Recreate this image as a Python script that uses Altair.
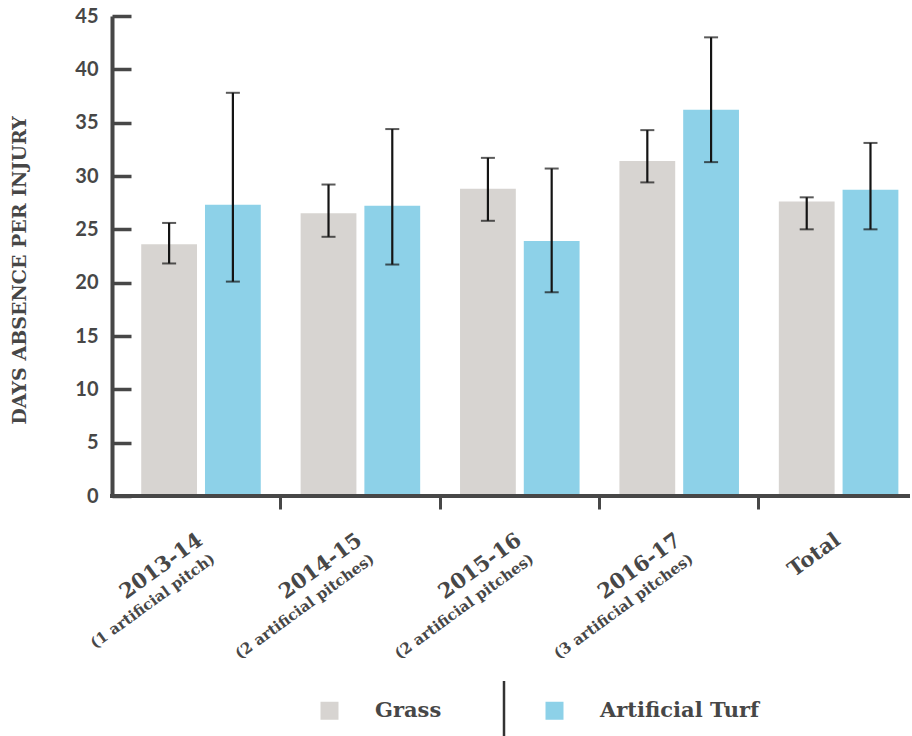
import altair as alt
import pandas as pd

# Seasons on the x axis, with the number of artificial pitches in use
seasons = ["2013-14", "2014-15", "2015-16", "2016-17", "Total"]
pitch_notes = [
    "(1 artificial pitch)",
    "(2 artificial pitches)",
    "(2 artificial pitches)",
    "(3 artificial pitches)",
    "",
]
surfaces = ["Grass", "Artificial Turf"]

# Mean days of absence per injury with lower / upper error bounds
grass_days = [23.6, 26.5, 28.8, 31.4, 27.6]
grass_low = [21.8, 24.3, 25.8, 29.4, 25.0]
grass_high = [25.6, 29.2, 31.7, 34.3, 28.0]

turf_days = [27.3, 27.2, 23.9, 36.2, 28.7]
turf_low = [20.1, 21.7, 19.1, 31.3, 25.0]
turf_high = [37.8, 34.4, 30.7, 43.0, 33.1]

y_ticks = [0, 5, 10, 15, 20, 25, 30, 35, 40, 45]

INK = "#474747"
BAR_INK = "#141414"
GRASS = "#d7d4d1"
TURF = "#8dd1e8"
SLAB = "DejaVu Serif"
SANS = "Lato"

W, H = 798, 480

rows = []
for i, s in enumerate(seasons):
    rows.append({"season": s, "surface": "Grass", "days": grass_days[i],
                 "low": grass_low[i], "high": grass_high[i]})
    rows.append({"season": s, "surface": "Artificial Turf", "days": turf_days[i],
                 "low": turf_low[i], "high": turf_high[i]})
df = pd.DataFrame(rows)

labels_df = pd.DataFrame({"season": seasons, "note": pitch_notes})
one_row = pd.DataFrame({"k": [0]})

x_enc = alt.X(
    "season:N",
    sort=seasons,
    scale=alt.Scale(domain=seasons, range=[9.3, 806.3], paddingInner=0, paddingOuter=0),
    axis=alt.Axis(
        title=None, labels=False, domain=False, grid=False,
        values=seasons[1:], bandPosition=0,
        tickSize=13, tickWidth=3, tickColor=INK, zindex=1,
    ),
)
xo_enc = alt.XOffset(
    "surface:N",
    sort=surfaces,
    scale=alt.Scale(domain=surfaces, paddingInner=0.125, paddingOuter=0.3125),
)
y_scale = alt.Scale(domain=[0, 45], nice=False, zero=True)

# The value axis sits on the left edge but its ticks point into the plot:
# it is a right-oriented axis pulled back across the full plot width,
# with its labels pushed out to the left of the axis line.
y_axis = alt.Axis(
    title="DAYS ABSENCE PER INJURY",
    orient="right", offset=-W, zindex=1,
    values=y_ticks, grid=False,
    ticks=True, tickSize=19, tickWidth=3.5, tickColor=INK,
    domainColor=INK, domainWidth=4,
    labelFont=SANS, labelFontSize=20, labelFontWeight="bold",
    labelColor=INK, labelAlign="right", labelPadding=-33,
    titleFont=SLAB, titleFontSize=19, titleFontWeight="bold", titleColor=INK,
    titleX=-93, titleY=254, titleAngle=270, titleAlign="center",
    titleBaseline="middle",
)

color_enc = alt.Color(
    "surface:N",
    sort=surfaces,
    scale=alt.Scale(domain=surfaces, range=[GRASS, TURF]),
    legend=alt.Legend(
        title=None, orient="none", legendX=207, legendY=684,
        direction="horizontal", symbolType="square", symbolSize=324,
        symbolStrokeWidth=0, labelOffset=35, columnPadding=102,
        labelFont=SLAB, labelFontSize=21, labelFontWeight="bold",
        labelColor=INK, padding=0,
    ),
)

bars = alt.Chart(df).mark_bar().encode(
    x=x_enc,
    xOffset=xo_enc,
    y=alt.Y("days:Q", scale=y_scale, axis=y_axis),
    color=color_enc,
)

err_stems = alt.Chart(df).mark_rule(color=BAR_INK, strokeWidth=2.2).encode(
    x=x_enc,
    xOffset=xo_enc,
    y=alt.Y("low:Q", scale=y_scale, axis=y_axis),
    y2="high:Q",
)
cap_low = alt.Chart(df).mark_tick(color=BAR_INK, thickness=2, size=14).encode(
    x=x_enc, xOffset=xo_enc, y=alt.Y("low:Q", scale=y_scale, axis=y_axis)
)
cap_high = alt.Chart(df).mark_tick(color=BAR_INK, thickness=2, size=14).encode(
    x=x_enc, xOffset=xo_enc, y=alt.Y("high:Q", scale=y_scale, axis=y_axis)
)

baseline = alt.Chart(one_row).mark_rule(color=INK, strokeWidth=4).encode(
    x=alt.value(-2), x2=alt.value(W), y=alt.value(H)
)

season_labels = alt.Chart(labels_df).mark_text(
    align="right", baseline="alphabetic", angle=324,
    font=SLAB, fontSize=21, fontWeight="bold", color=INK,
    dx=2.4, dy=1.8,
).encode(x=x_enc, y=alt.value(527), text="season:N")

note_labels = alt.Chart(labels_df).transform_filter(
    "datum.note != ''"
).mark_text(
    align="right", baseline="alphabetic", angle=324,
    font=SLAB, fontSize=15, fontWeight="bold", color=INK,
    dx=12.1, dy=8.8,
).encode(x=x_enc, y=alt.value(545), text="note:N")

legend_divider = alt.Chart(one_row).mark_rule(color="#333333", strokeWidth=2.5).encode(
    x=alt.value(392), y=alt.value(665), y2=alt.value(722)
)

chart = alt.layer(
    bars, err_stems, cap_low, cap_high, baseline,
    season_labels, note_labels, legend_divider,
).properties(
    width=W,
    height=H,
    autosize=alt.AutoSizeParams(type="none"),
    padding={"left": 112, "top": 16, "right": 2, "bottom": 240},
    background="white",
).configure_view(strokeWidth=0)

chart.save("out.html", embed_options={"renderer": "svg", "actions": False})
